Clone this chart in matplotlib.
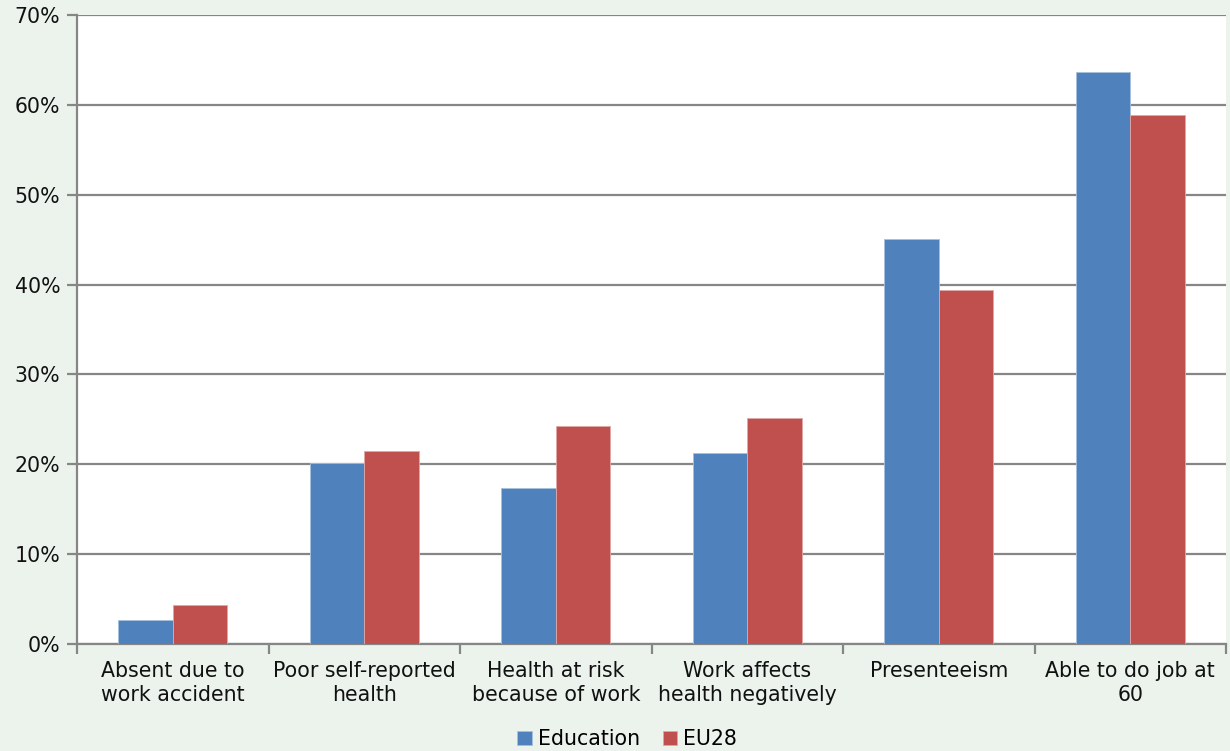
import matplotlib
matplotlib.use("Agg")
import matplotlib.pyplot as plt
import numpy as np
from matplotlib.ticker import MultipleLocator, FuncFormatter

categories = ["Absent due to\nwork accident", "Poor self-reported\nhealth",
              "Health at risk\nbecause of work", "Work affects\nhealth negatively",
              "Presenteeism", "Able to do job at\n60"]
education = [2.7, 20.1, 17.4, 21.3, 45.1, 63.7]
eu28 = [4.3, 21.5, 24.3, 25.2, 39.4, 58.9]

bg = "#ECF2EC"
grid_c = "#868686"
fs = 14.8
plt.rcParams['font.family'] = ['DejaVu Sans']

fig = plt.figure(figsize=(12.3, 7.51), dpi=100, facecolor=bg)
ax = fig.add_axes([77/1230, 1-644/751, (1226-77)/1230, (644-15)/751])
ax.set_facecolor("white")

x = np.arange(len(categories))
w = 0.285
ax.bar(x - w/2, education, w, color="#4F81BD", edgecolor="#A7C0DE", linewidth=0.6, label="Education", zorder=3)
ax.bar(x + w/2, eu28, w, color="#C0504D", edgecolor="#DFA8A6", linewidth=0.6, label="EU28", zorder=3)

ax.set_xlim(-0.5, len(categories) - 0.5)
ax.set_ylim(0, 70)
ax.yaxis.set_major_locator(MultipleLocator(10))
ax.yaxis.set_major_formatter(FuncFormatter(lambda v, p: f"{v:.0f}%"))
ax.grid(axis="y", color=grid_c, linewidth=1.6, zorder=0)

ax.set_xticks(x)
ax.set_xticklabels(categories, fontsize=fs, color="#111111", linespacing=1.3)
ax.set_xticks(np.arange(-0.5, len(categories)), minor=True)
ax.tick_params(axis="x", which="major", length=0, pad=12)
ax.tick_params(axis="x", which="minor", length=7, width=1.6, color=grid_c, direction="out")
ax.tick_params(axis="y", length=7, width=1.6, color=grid_c, labelsize=fs, labelcolor="#111111", pad=5)

for s in ["top", "right"]:
    ax.spines[s].set_visible(False)
for s in ["left", "bottom"]:
    ax.spines[s].set_color(grid_c)
    ax.spines[s].set_linewidth(1.6)

leg = fig.legend(loc="lower center", bbox_to_anchor=(0.51, -0.022), ncol=2, frameon=False,
                 fontsize=fs, handlelength=0.7, handleheight=0.7, handletextpad=0.3,
                 columnspacing=1.1)

fig.savefig("out.png", dpi=100, facecolor=bg)
